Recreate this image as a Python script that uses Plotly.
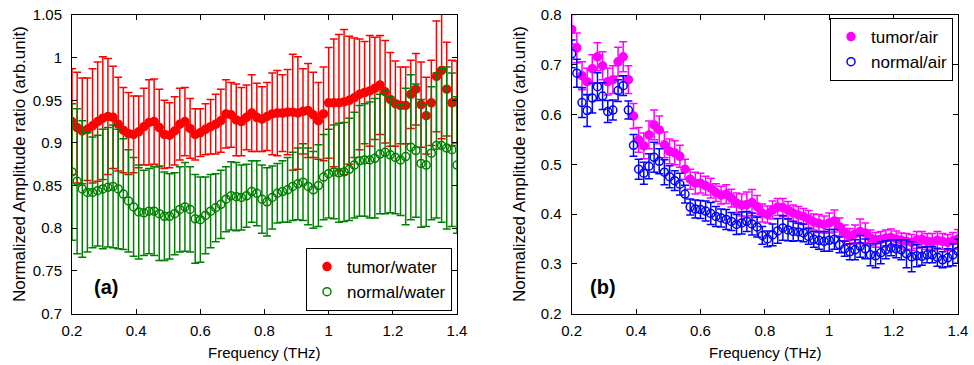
import plotly.graph_objects as go

# ---------------- data ----------------
freq = [0.200, 0.216, 0.232, 0.248, 0.264, 0.280, 0.296, 0.312, 0.328, 0.344,
        0.360, 0.376, 0.392, 0.408, 0.424, 0.440, 0.456, 0.472, 0.488, 0.504,
        0.520, 0.536, 0.552, 0.568, 0.584, 0.600, 0.616, 0.632, 0.648, 0.664,
        0.680, 0.696, 0.712, 0.728, 0.744, 0.760, 0.776, 0.792, 0.808, 0.824,
        0.840, 0.856, 0.872, 0.888, 0.904, 0.920, 0.936, 0.952, 0.968, 0.984,
        1.000, 1.016, 1.032, 1.048, 1.064, 1.080, 1.096, 1.112, 1.128, 1.144,
        1.160, 1.176, 1.192, 1.208, 1.224, 1.240, 1.256, 1.272, 1.288, 1.304,
        1.320, 1.336, 1.352, 1.368, 1.384, 1.400]

tumor_water = [0.925, 0.918, 0.914, 0.916, 0.920, 0.925, 0.929, 0.931, 0.930, 0.922,
               0.915, 0.911, 0.910, 0.913, 0.919, 0.924, 0.925, 0.918, 0.910, 0.909,
               0.914, 0.922, 0.925, 0.917, 0.910, 0.912, 0.916, 0.919, 0.922, 0.926,
               0.934, 0.933, 0.927, 0.925, 0.930, 0.935, 0.930, 0.928, 0.931, 0.934,
               0.935, 0.935, 0.936, 0.936, 0.935, 0.937, 0.938, 0.933, 0.926, 0.934,
               0.947, 0.947, 0.947, 0.948, 0.950, 0.953, 0.957, 0.959, 0.961, 0.964,
               0.968, 0.960, 0.951, 0.946, 0.944, 0.944, 0.957, 0.963, 0.945, 0.932,
               0.947, 0.978, 0.985, 0.963, 0.947, 0.948]
tumor_water_err = [0.062, 0.065, 0.062, 0.060, 0.067, 0.070, 0.072, 0.068, 0.060, 0.055,
                   0.050, 0.048, 0.045, 0.042, 0.045, 0.050, 0.050, 0.045, 0.040, 0.038,
                   0.040, 0.042, 0.040, 0.035, 0.030, 0.028, 0.030, 0.032, 0.035, 0.037,
                   0.040, 0.038, 0.042, 0.040, 0.038, 0.045, 0.040, 0.038, 0.040, 0.048,
                   0.050, 0.045, 0.050, 0.068, 0.066, 0.050, 0.055, 0.050, 0.045, 0.055,
                   0.065, 0.075, 0.080, 0.085, 0.075, 0.070, 0.065, 0.060, 0.065, 0.060,
                   0.058, 0.060, 0.055, 0.050, 0.045, 0.045, 0.040, 0.042, 0.050, 0.045,
                   0.050, 0.065, 0.080, 0.055, 0.050, 0.048]

normal_water = [0.866, 0.855, 0.846, 0.842, 0.842, 0.844, 0.846, 0.848, 0.849, 0.846,
                0.840, 0.832, 0.825, 0.819, 0.818, 0.820, 0.820, 0.817, 0.814, 0.814,
                0.817, 0.822, 0.825, 0.822, 0.811, 0.810, 0.815, 0.820, 0.824, 0.828,
                0.834, 0.838, 0.837, 0.836, 0.838, 0.843, 0.841, 0.834, 0.831, 0.836,
                0.841, 0.843, 0.845, 0.849, 0.852, 0.854, 0.849, 0.845, 0.850, 0.860,
                0.864, 0.866, 0.865, 0.866, 0.869, 0.874, 0.879, 0.880, 0.880, 0.882,
                0.887, 0.889, 0.886, 0.883, 0.880, 0.884, 0.895, 0.891, 0.876, 0.874,
                0.888, 0.897, 0.897, 0.894, 0.892, 0.874]
normal_water_err = [0.080, 0.085, 0.080, 0.070, 0.065, 0.065, 0.070, 0.070, 0.072, 0.070,
                    0.065, 0.060, 0.058, 0.055, 0.050, 0.050, 0.052, 0.055, 0.052, 0.050,
                    0.048, 0.050, 0.052, 0.050, 0.052, 0.050, 0.045, 0.043, 0.040, 0.040,
                    0.038, 0.040, 0.040, 0.038, 0.037, 0.036, 0.038, 0.040, 0.040, 0.037,
                    0.035, 0.036, 0.038, 0.040, 0.042, 0.045, 0.045, 0.045, 0.048, 0.050,
                    0.052, 0.055, 0.058, 0.058, 0.060, 0.062, 0.065, 0.066, 0.068, 0.070,
                    0.070, 0.072, 0.068, 0.066, 0.065, 0.080, 0.085, 0.078, 0.075, 0.072,
                    0.078, 0.085, 0.090, 0.095, 0.090, 0.080]

tumor_air = [0.771, 0.734, 0.678, 0.666, 0.692, 0.716, 0.698, 0.666, 0.670, 0.706,
             0.716, 0.670, 0.597, 0.549, 0.537, 0.559, 0.579, 0.569, 0.539, 0.526,
             0.523, 0.516, 0.490, 0.470, 0.462, 0.462, 0.457, 0.452, 0.443, 0.438,
             0.440, 0.432, 0.422, 0.418, 0.419, 0.423, 0.415, 0.402, 0.399, 0.408,
             0.414, 0.413, 0.408, 0.402, 0.398, 0.395, 0.390, 0.384, 0.381, 0.379,
             0.382, 0.386, 0.374, 0.362, 0.355, 0.360, 0.365, 0.362, 0.352, 0.348,
             0.349, 0.352, 0.353, 0.350, 0.347, 0.345, 0.343, 0.348, 0.349, 0.345,
             0.344, 0.347, 0.345, 0.343, 0.346, 0.350]
tumor_air_err = [0.030, 0.030, 0.028, 0.027, 0.028, 0.028, 0.028, 0.027, 0.028, 0.029,
                 0.030, 0.028, 0.025, 0.025, 0.026, 0.028, 0.030, 0.028, 0.026, 0.025,
                 0.024, 0.022, 0.020, 0.020, 0.022, 0.020, 0.019, 0.020, 0.018, 0.018,
                 0.019, 0.018, 0.020, 0.022, 0.025, 0.026, 0.022, 0.018, 0.017, 0.018,
                 0.017, 0.018, 0.017, 0.016, 0.017, 0.016, 0.017, 0.016, 0.018, 0.017,
                 0.020, 0.022, 0.018, 0.016, 0.016, 0.018, 0.025, 0.020, 0.016, 0.015,
                 0.016, 0.016, 0.017, 0.016, 0.015, 0.016, 0.016, 0.017, 0.016, 0.016,
                 0.017, 0.018, 0.016, 0.016, 0.017, 0.019]

normal_air = [0.722, 0.683, 0.624, 0.608, 0.633, 0.656, 0.637, 0.606, 0.609, 0.648,
              0.658, 0.609, 0.538, 0.490, 0.482, 0.496, 0.514, 0.506, 0.484, 0.475,
              0.467, 0.460, 0.440, 0.414, 0.410, 0.409, 0.406, 0.401, 0.395, 0.392,
              0.389, 0.385, 0.379, 0.382, 0.385, 0.380, 0.374, 0.357, 0.350, 0.358,
              0.366, 0.372, 0.368, 0.365, 0.364, 0.362, 0.355, 0.349, 0.347, 0.345,
              0.347, 0.349, 0.338, 0.330, 0.324, 0.328, 0.335, 0.330, 0.318, 0.316,
              0.322, 0.328, 0.332, 0.330, 0.328, 0.320, 0.314, 0.316, 0.315, 0.318,
              0.318, 0.313, 0.308, 0.312, 0.318, 0.325]
normal_air_err = [0.028, 0.028, 0.030, 0.032, 0.030, 0.028, 0.027, 0.022, 0.020, 0.022,
                  0.020, 0.018, 0.022, 0.020, 0.022, 0.025, 0.030, 0.025, 0.025, 0.022,
                  0.020, 0.022, 0.018, 0.016, 0.018, 0.018, 0.020, 0.022, 0.020, 0.018,
                  0.020, 0.018, 0.020, 0.022, 0.020, 0.022, 0.020, 0.018, 0.016, 0.022,
                  0.025, 0.025, 0.022, 0.020, 0.018, 0.018, 0.016, 0.016, 0.018, 0.020,
                  0.022, 0.020, 0.016, 0.015, 0.016, 0.020, 0.022, 0.020, 0.022, 0.024,
                  0.022, 0.018, 0.016, 0.018, 0.020, 0.028, 0.030, 0.022, 0.018, 0.016,
                  0.016, 0.018, 0.016, 0.018, 0.022, 0.024]

x_ticks = [0.2, 0.4, 0.6, 0.8, 1.0, 1.2, 1.4]

# ---------------- figure ----------------
W, H = 974, 365
FONT = "Liberation Sans, Arial, sans-serif"

fig = go.Figure()

def add_series(x, y, err, color, filled, name, xa, ya, legend):
    fig.add_trace(go.Scatter(
        x=x, y=y, mode="markers", name=name,
        xaxis=xa, yaxis=ya, legend=legend,
        marker=dict(
            symbol="circle" if filled else "circle-open",
            size=8, color=color,
            line=dict(width=1.5, color=color)),
        error_y=dict(type="data", array=err, visible=True,
                     color=color, thickness=1.5, width=4),
    ))

add_series(freq, tumor_water, tumor_water_err, "#ff0000", True, "tumor/water", "x", "y", "legend")
add_series(freq, normal_water, normal_water_err, "#008000", False, "normal/water", "x", "y", "legend")
add_series(freq, tumor_air, tumor_air_err, "#ff00ff", True, "tumor/air", "x2", "y2", "legend2")
add_series(freq, normal_air, normal_air_err, "#0000ff", False, "normal/air", "x2", "y2", "legend2")

ax_common = dict(showline=True, linecolor="black", linewidth=1, mirror="ticks",
                 ticks="inside", ticklen=5, tickcolor="black", tickwidth=1,
                 showgrid=False, zeroline=False, automargin=False,
                 tickfont=dict(family=FONT, size=15, color="black"))

top = 1 - 15 / H
bot = 1 - 313.5 / H

fig.update_layout(
    width=W, height=H, autosize=False,
    margin=dict(l=0, r=0, t=0, b=0, pad=0, autoexpand=False),
    paper_bgcolor="white", plot_bgcolor="white",
    font=dict(family=FONT, color="black"),
    xaxis=dict(domain=[72 / W, 457 / W], range=[0.2, 1.4], tickvals=x_ticks,
               anchor="y", ticklabelstandoff=3, **ax_common),
    yaxis=dict(domain=[bot, top], range=[0.7, 1.05], dtick=0.05, tick0=0.7,
               anchor="x", ticklabelstandoff=6, **ax_common),
    xaxis2=dict(domain=[571.7 / W, 958 / W], range=[0.2, 1.4], tickvals=x_ticks,
                anchor="y2", ticklabelstandoff=3, **ax_common),
    yaxis2=dict(domain=[bot, top], range=[0.2, 0.8], dtick=0.1, tick0=0.2,
                anchor="x2", ticklabelstandoff=6, **ax_common),
    legend=dict(x=452 / W, y=1 - 311 / H, xanchor="right", yanchor="bottom",
                bgcolor="white", bordercolor="black", borderwidth=1,
                font=dict(family=FONT, size=17, color="black"),
                tracegroupgap=0),
    legend2=dict(x=953 / W, y=1 - 18 / H, xanchor="right", yanchor="top",
                 bgcolor="white", bordercolor="black", borderwidth=1,
                 font=dict(family=FONT, size=17, color="black"),
                 tracegroupgap=0),
    showlegend=True,
)

ann = []
ylab = "Normalized Amplitude ratio (arb.unit)"
for xc in (20, 520):
    ann.append(dict(text=ylab, x=xc / W, y=1 - 164 / H, xref="paper", yref="paper",
                    textangle=-90, showarrow=False, xanchor="center", yanchor="middle",
                    font=dict(family=FONT, size=17, color="black")))
for xc in (264.5, 765):
    ann.append(dict(text="Frequency (THz)", x=xc / W, y=1 - 352 / H, xref="paper", yref="paper",
                    showarrow=False, xanchor="center", yanchor="middle",
                    font=dict(family=FONT, size=15, color="black")))
for txt, xc in (("<b>(a)</b>", 105.5), ("<b>(b)</b>", 603)):
    ann.append(dict(text=txt, x=xc / W, y=1 - 287 / H, xref="paper", yref="paper",
                    showarrow=False, xanchor="center", yanchor="middle",
                    font=dict(family=FONT, size=20, color="black")))
fig.update_layout(annotations=ann)

fig.write_html(
    "out.html",
    config={"displayModeBar": False},
    post_script=("document.documentElement.style.margin='0';"
                 "document.body.style.margin='0';"
                 "document.body.style.overflow='hidden';"),
)
